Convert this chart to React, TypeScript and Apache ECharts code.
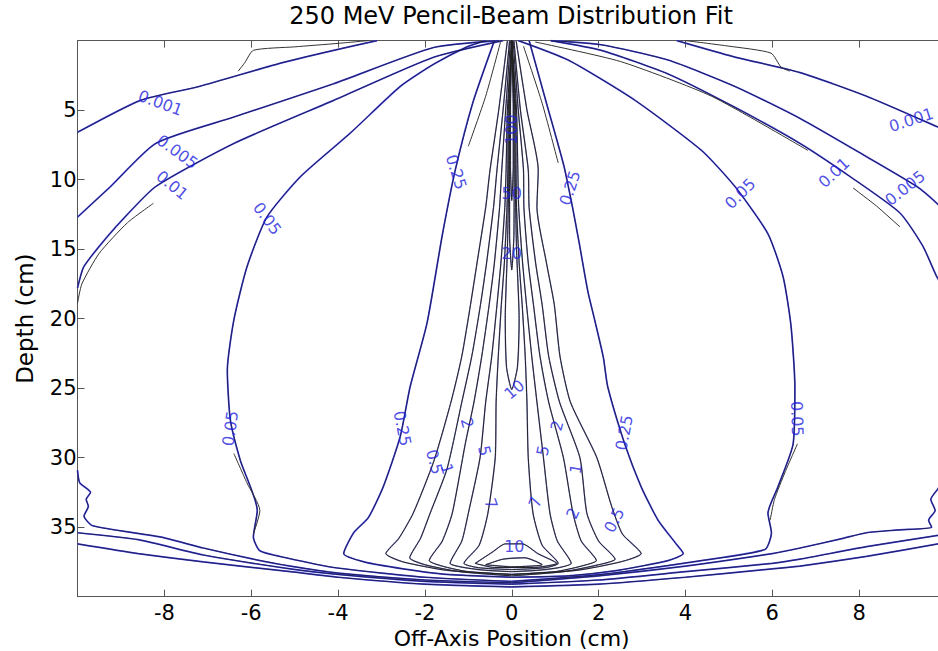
import React, { useEffect, useRef } from 'react';
import * as echarts from 'echarts';

const FONT = '"DejaVu Sans", "Liberation Sans", Arial, sans-serif';
const TITLE = '250 MeV Pencil-Beam Distribution Fit';
const X_NAME = 'Off-Axis Position (cm)';
const Y_NAME = 'Depth (cm)';
const X_MIN = -10, X_MAX = 10, X_STEP = 2;
const Y_MIN = 0, Y_MAX = 40, Y_STEP = 5;

// ---- fitted contour paths: [off-axis x (cm), depth (cm)] ----
const F0001_L = [[-10, 6.6], [-8.55, 4.3], [-7.2, 3.3], [-5.3, 1.6], [-4.1, 0.7], [-3.1, 0]];
const F0001_R = [[3.8, 0], [5.1, 1.15], [6.64, 2.3], [8.17, 4.0], [9.8, 6.2], [10, 6.5]];
const F0001_BL = [[-10, 36.2], [-8.6, 36.9], [-7.1, 37.5], [-5.1, 38.2], [-4, 38.6], [-2, 39.1], [0, 39.3]];
const F0001_BR = [[0, 39.3], [2, 39.1], [4, 38.6], [6, 38.0], [6.64, 37.8], [8.17, 37.1], [10, 36.1]];

const F0005_L = [[-10, 12.7], [-9.24, 10.5], [-8.2, 7.4], [-6.4, 5.5], [-4.1, 3.1], [-1.8, 0.5], [-0.3, 0]];
const F0005_R = [[0.9, 0], [2.06, 0.3], [3.6, 1.4], [5.14, 3.3], [6.64, 5.6], [8.17, 8.35], [9.33, 10.5], [9.79, 11.7], [10, 12.4]];
const F0005_BL = [[-10, 35.4], [-8.6, 35.9], [-7.1, 37.0], [-5.1, 38.0], [-4, 38.4], [-2, 38.9], [0, 39.1]];
const F0005_BR = [[0, 39.1], [2, 38.8], [4, 38.2], [6, 37.6], [6.64, 37.3], [8.17, 36.4], [10, 35.5]];

const F001_L = [[-10, 17.8], [-9.86, 16.3], [-9.5, 14.8], [-9, 13], [-8.2, 10.5], [-6.4, 7.4], [-4.1, 4.3], [-1.8, 1.2], [-0.2, 0]];
const F001_R = [[0.9, 0], [2.06, 0.7], [3.6, 2.4], [5.14, 4.8], [6.64, 7.4], [7.8, 9.8], [8.94, 12.4], [9.47, 14.8], [9.79, 17], [10, 18]];
const F001_BL = [[-10, 30.9], [-9.95, 31.8], [-9.7, 32.5], [-9.8, 33.0], [-9.75, 33.5], [-9.85, 34.2], [-9.65, 34.9], [-8.1, 35.7], [-7.1, 36.5], [-5.95, 37.3], [-5.1, 37.8], [-4, 38.3], [-2, 38.8], [0, 39.0]];
const F001_BR = [[0, 39.0], [2, 38.5], [4, 37.8], [6, 36.9], [6.64, 36.5], [7.63, 35.8], [8.17, 35.4], [8.9, 35.2], [9.67, 35.0], [9.6, 34.5], [9.75, 33.8], [9.65, 33], [9.8, 32.3], [10, 31.5]];

const F005_L = [[-0.6, 0], [-1.03, 0.45], [-1.8, 1.7], [-2.57, 3.3], [-3.72, 6.66], [-4.87, 9.8], [-5.64, 12.7], [-6.1, 16.3], [-6.4, 20.1], [-6.55, 23.7], [-6.48, 27.3], [-6.25, 30.2], [-5.86, 33.8], [-5.95, 35.7], [-5.8, 36.7], [-5.2, 37.2], [-4.1, 37.9], [-2, 38.6], [0, 38.9]];
const F005_R = [[0, 38.9], [2.06, 38.4], [4.37, 37.4], [5.83, 36.6], [5.98, 35.4], [5.9, 34], [6.13, 32.1], [6.48, 29], [6.52, 24.9], [6.43, 20.5], [6.25, 17], [5.9, 13.9], [5.14, 10.5], [4.37, 7.9], [2.84, 4.3], [1.3, 1.4], [0.15, 0]];

const F025_L = [[-0.4, 0], [-0.9, 4.5], [-1.3, 9.3], [-1.6, 14], [-1.95, 20.3], [-2.34, 24.9], [-2.57, 28.5], [-2.96, 32.1], [-3.3, 34.3], [-3.64, 35.4], [-3.87, 36.9], [-3.4, 37.5], [-2.5, 38.0], [-1.5, 38.4], [0, 38.6]];
const F025_R = [[0, 38.6], [1.3, 38.5], [2.45, 38.1], [3.6, 37.4], [3.95, 36.9], [3.76, 36.1], [3.37, 34.5], [2.98, 32.1], [2.6, 29], [2.21, 24.9], [2.11, 22.8], [1.91, 20.1], [1.75, 18], [1.55, 14.5], [1.4, 12], [1.2, 9], [0.8, 4.5], [0.4, 0]];

const F05_L = [[-0.1, 0], [-0.3, 5], [-0.5, 9.3], [-0.6, 12], [-0.8, 16], [-0.95, 19], [-1.15, 22.7], [-1.4, 26], [-1.8, 30.3], [-2.27, 34], [-2.6, 35.8], [-2.9, 36.9], [-2.5, 37.5], [-1.5, 38.1], [0, 38.4]];
const F05_R = [[0, 38.4], [1.5, 38.1], [2.5, 37.5], [2.98, 36.9], [2.55, 35.5], [2.3, 33.5], [1.96, 30], [1.35, 26], [1.11, 22.7], [0.98, 19], [0.8, 16], [0.58, 12], [0.61, 9.3], [0.35, 5], [0.1, 0]];

const F1_L = [[-0.05, 0], [-0.2, 5], [-0.34, 9.3], [-0.42, 12], [-0.58, 16], [-0.72, 19], [-0.92, 22.7], [-1.15, 26], [-1.49, 30.8], [-1.88, 34], [-2.1, 35.8], [-2.35, 37.2], [-2.0, 37.7], [-1.2, 38.2], [0, 38.5]];
const F1_R = [[0, 38.5], [1.2, 38.2], [2.0, 37.7], [2.38, 37.3], [2.0, 36], [1.73, 34], [1.57, 30], [1.1, 26], [0.85, 22.7], [0.7, 19], [0.55, 16], [0.4, 12], [0.38, 9.3], [0.2, 5], [0.05, 0]];

const F2_L = [[-0.03, 0], [-0.14, 5], [-0.23, 9.3], [-0.28, 12], [-0.4, 16], [-0.52, 19], [-0.69, 22.7], [-0.87, 26], [-1.07, 29], [-1.37, 34], [-1.6, 36], [-1.9, 37.4], [-1.6, 37.8], [-1.0, 38.2], [0, 38.4]];
const F2_R = [[0, 38.4], [1.0, 38.2], [1.6, 37.8], [1.95, 37.4], [1.6, 36], [1.41, 34], [1.19, 30], [0.85, 26], [0.65, 22.7], [0.5, 19], [0.38, 16], [0.28, 12], [0.27, 9.3], [0.15, 5], [0.03, 0]];

const F5_L = [[0, 0], [-0.1, 5], [-0.13, 9.3], [-0.16, 12], [-0.25, 16], [-0.34, 19], [-0.46, 22.7], [-0.6, 26], [-0.73, 30], [-1.0, 34], [-1.15, 36], [-1.42, 37.6], [-1.1, 37.9], [-0.6, 38.1], [0, 38.2]];
const F5_R = [[0, 38.2], [0.6, 38.1], [1.1, 37.9], [1.37, 37.6], [1.05, 36], [0.88, 34], [0.73, 30], [0.58, 26], [0.46, 22.7], [0.34, 19], [0.25, 16], [0.16, 12], [0.14, 9.3], [0.11, 5], [0, 0]];

const F7_L = [[0, 0], [-0.08, 5], [-0.09, 9.3], [-0.11, 12], [-0.17, 16], [-0.24, 19], [-0.31, 22.7], [-0.36, 26], [-0.38, 30], [-0.55, 34], [-0.75, 36.3], [-1.1, 37.6], [-0.8, 37.9], [-0.4, 38.0], [0, 38.05]];
const F7_R = [[0, 38.05], [0.4, 38.0], [0.8, 37.9], [1.07, 37.6], [0.7, 36.3], [0.49, 34], [0.38, 30], [0.35, 26], [0.31, 22.7], [0.24, 19], [0.17, 16], [0.11, 12], [0.1, 9.3], [0.09, 5], [0, 0]];

const F10_TOP = [[0, 0], [-0.06, 5], [-0.07, 10], [-0.1, 15], [-0.15, 20], [-0.12, 23.5], [0, 25.1], [0.13, 23.5], [0.17, 20], [0.11, 15], [0.08, 10], [0.07, 5], [0, 0]];
const F10_BOT = [[-0.84, 37.6], [-0.45, 36.8], [-0.15, 36.2], [0.25, 36.2], [0.6, 36.9], [1.04, 37.6], [0.5, 37.9], [-0.4, 37.9], [-0.84, 37.6]];
const F20_TOP = [[0, 0], [-0.045, 5], [-0.05, 10], [-0.05, 14], [0, 16.5], [0.05, 14], [0.055, 10], [0.05, 5], [0, 0]];
const F20_BOT = [[-0.6, 37.7], [-0.2, 37.3], [0.3, 37.2], [0.7, 37.7], [0, 37.85], [-0.6, 37.7]];
const F50_TOP = [[0, 0], [-0.03, 5], [-0.03, 9], [0, 11.5], [0.035, 9], [0.035, 5], [0, 0]];

// ---- measured (black) segments that stand apart from the fit ----
const M0001_L = [[-6.3, 2.2], [-6.15, 1.6], [-5.95, 0.7], [-5.0, 0.45], [-4.0, 0.2], [-3.3, 0]];
const M0001_R = [[4.0, 0], [5.0, 0.4], [5.97, 0.9], [6.2, 1.9], [6.4, 2.2]];
const M001_L = [[-8.25, 11.7], [-8.85, 13.1], [-9.5, 15.3], [-9.9, 17.5], [-10, 18.9]];
const M001_R = [[7.86, 10.6], [8.4, 11.9], [8.94, 13.4]];
const M001_RT = [[0.54, 0.1], [2.5, 1.5], [4.6, 4.0], [6.82, 7.9]];
const M005_L = [[-6.4, 29.7], [-6.1, 31.8], [-5.8, 33.8], [-5.95, 35.5]];
const M005_R = [[6.58, 29], [6.3, 31], [6.05, 33], [5.95, 34.5]];
const M025_LT = [[-0.25, 0], [-0.6, 4], [-1.0, 7.6]];
const M025_RT = [[0.27, 0.4], [0.7, 4.5], [1.07, 8.8]];

// ---- contour labels ----
const LABEL_TEXT = ['0.001', '0.005', '0.01', '0.05', '0.25', '0.25', '0.05', '0.01', '0.005', '0.001',
  '0.05', '0.05', '0.25', '0.25', '0.5', '1', '2', '5', '7', '10', '5', '7', '2', '1', '2', '0.5', '10', '20', '50', '100'];
const LABEL_X = [-8.09, -7.7, -7.82, -5.63, -1.28, 1.34, 5.26, 7.42, 9.06, 9.2,
  -6.48, 6.57, -2.52, 2.59, -1.78, -1.49, -1.03, -0.63, -0.48, 0.06, 0.72, 0.54, 1.04, 1.48, 1.41, 2.36, 0.06, 0, 0, 0];
const LABEL_DEPTH = [4.49, 8.0, 10.4, 12.8, 9.45, 10.6, 11.0, 9.5, 10.6, 5.7,
  27.9, 27.2, 27.9, 28.2, 30.3, 30.8, 27.5, 29.5, 33.3, 25.1, 29.5, 33.2, 27.7, 30.8, 34.0, 34.5, 36.4, 15.3, 11.0, 6.4];
const LABEL_ROTATE = [-20, -36, -40, -54, -72, 72, 45, 43, 38, 18,
  82, -88, -79, 79, -74, -72, -75, -78, -70, 40, 78, 70, 75, 80, 65, 62, 0, 0, 0, 90];

const FIT_OUTER = [F0001_L, F0001_R, F0001_BL, F0001_BR, F0005_L, F0005_R, F0005_BL, F0005_BR,
  F001_L, F001_R, F001_BL, F001_BR, F005_L, F005_R, F025_L, F025_R];
const FIT_INNER = [F05_L, F05_R, F1_L, F1_R, F2_L, F2_R, F5_L, F5_R, F7_L, F7_R,
  F10_TOP, F10_BOT, F20_TOP, F20_BOT, F50_TOP];
const MEASURED = [M0001_L, M0001_R, M001_L, M001_R, M001_RT, M005_L, M005_R, M025_LT, M025_RT];

function lineSeries(data: number[][], color: string, width: number, z: number) {
  return {
    type: 'line', data, showSymbol: false, symbol: 'none', smooth: 0.2,
    lineStyle: { color, width }, z, silent: true, clip: true, animation: false,
  };
}

export default function App() {
  const ref = useRef<HTMLDivElement>(null);
  useEffect(() => {
    if (!ref.current) return;
    const chart = echarts.init(ref.current, undefined, { renderer: 'svg' });
    const series: any[] = [];
    FIT_OUTER.forEach((p) => {
      series.push(lineSeries(p, '#4444e6', 1.7, 2));
      series.push(lineSeries(p, '#141430', 0.8, 3));
    });
    FIT_INNER.forEach((p) => {
      series.push(lineSeries(p, '#8a8ad0', 1.4, 2));
      series.push(lineSeries(p, '#222222', 1.0, 3));
    });
    MEASURED.forEach((p) => series.push(lineSeries(p, '#333333', 1, 3)));
    series.push({
      type: 'scatter', symbolSize: 1, itemStyle: { color: 'rgba(0,0,0,0)' }, z: 6, silent: true,
      data: LABEL_TEXT.map((t, i) => ({ name: t, value: [LABEL_X[i], LABEL_DEPTH[i]], label: { rotate: LABEL_ROTATE[i] } })),
      label: { show: true, position: 'inside', formatter: (p: any) => p.name, color: '#2222dd', fontSize: 16, fontFamily: FONT },
    });
    const axisLine = { show: true, onZero: false, lineStyle: { color: '#555555', width: 1 } };
    const tick = { show: true, inside: true, length: 7, lineStyle: { color: '#555555' } };
    const lbl = { fontSize: 21, lineHeight: 20, color: '#000', fontFamily: FONT, showMinLabel: false, showMaxLabel: false };
    chart.setOption({
      animation: false,
      backgroundColor: '#ffffff',
      graphic: [{
        type: 'text', x: 511, y: 4,
        style: { text: TITLE, font: '24px ' + FONT, fill: '#000', align: 'center', textAlign: 'center', verticalAlign: 'top', textVerticalAlign: 'top' },
      }],
      grid: { left: 77.5, top: 40.6, width: 868.5, height: 556.1, containLabel: false, outerBoundsMode: 'none' },
      xAxis: [
        { type: 'value', min: X_MIN, max: X_MAX, interval: X_STEP, position: 'bottom', axisLine, axisTick: tick,
          axisLabel: { ...lbl, margin: 6 }, splitLine: { show: false },
          name: X_NAME, nameLocation: 'middle', nameGap: 31, nameMoveOverlap: false,
          nameTextStyle: { fontSize: 22, lineHeight: 22, color: '#000', fontFamily: FONT } },
        { type: 'value', min: X_MIN, max: X_MAX, interval: X_STEP, position: 'top', axisLine, axisTick: tick,
          axisLabel: { show: false }, splitLine: { show: false } },
      ],
      yAxis: [
        { type: 'value', min: Y_MIN, max: Y_MAX, interval: Y_STEP, inverse: true, position: 'left', axisLine, axisTick: tick,
          axisLabel: { ...lbl, margin: 1 }, splitLine: { show: false },
          name: Y_NAME, nameLocation: 'middle', nameGap: 42, nameRotate: 90, nameMoveOverlap: false,
          nameTextStyle: { fontSize: 23, lineHeight: 22, color: '#000', fontFamily: FONT } },
        { type: 'value', min: Y_MIN, max: Y_MAX, interval: Y_STEP, inverse: true, position: 'right', axisLine, axisTick: tick,
          axisLabel: { show: false }, splitLine: { show: false } },
      ],
      series,
    });
    return () => chart.dispose();
  }, []);
  return <div ref={ref} style={{ position: 'fixed', left: 0, top: 0, width: 938, height: 651 }} />;
}
